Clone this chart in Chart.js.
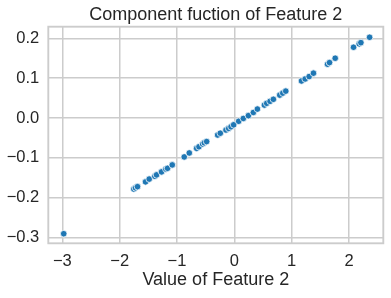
<!DOCTYPE html>
<html><head><meta charset="utf-8">
<script src="https://cdn.jsdelivr.net/npm/chart.js@4/dist/chart.umd.min.js"></script>
<style>html,body{margin:0;padding:0;background:#fff;overflow:hidden;}</style>
</head><body>
<canvas id="c" width="391" height="298" style="width:391px;height:298px;display:block"></canvas>
<script>
const featureValues = [-2.976,-1.753,-1.724,-1.689,-1.549,-1.485,-1.386,-1.357,-1.270,-1.194,-1.165,-1.083,-0.874,-0.786,-0.658,-0.617,-0.553,-0.524,-0.483,-0.291,-0.245,-0.146,-0.099,-0.058,-0.012,0.076,0.157,0.245,0.332,0.402,0.524,0.565,0.623,0.681,0.792,0.845,0.897,1.171,1.235,1.305,1.380,1.625,1.660,1.759,2.079,2.178,2.207,2.359];
const componentValues = [-0.290,-0.178,-0.175,-0.172,-0.160,-0.153,-0.146,-0.1425,-0.135,-0.128,-0.126,-0.1175,-0.0975,-0.0875,-0.076,-0.072,-0.065,-0.062,-0.059,-0.0425,-0.038,-0.030,-0.026,-0.022,-0.017,-0.008,-0.001,0.006,0.014,0.0225,0.0325,0.037,0.042,0.047,0.0575,0.0625,0.0675,0.093,0.098,0.104,0.1125,0.135,0.139,0.150,0.1775,0.186,0.189,0.2025];
const xTickValues = [-3,-2,-1,0,1,2];
const xTickLabels = ['\u22123','\u22122','\u22121','0','1','2'];
const yTickValues = [-0.3,-0.2,-0.1,0,0.1,0.2];
const yTickLabels = ['\u22120.3','\u22120.2','\u22120.1','0.0','0.1','0.2'];
const chartTitle = 'Component fuction of Feature 2';
const xTitle = 'Value of Feature 2';

const FONT = '"Liberation Sans", Arial, sans-serif';
const TEXT = '#262626';
const GRID = '#cccccc';

function labelFor(values, labels, v){
  for (let i=0;i<values.length;i++) if (Math.abs(values[i]-v)<1e-9) return labels[i];
  return '';
}

const framePlugin = {
  id:'frame',
  beforeDatasetsDraw(chart){
    const a = chart.chartArea, ctx = chart.ctx;
    ctx.save();
    ctx.strokeStyle = GRID;
    ctx.lineWidth = 1.875;
    ctx.strokeRect(a.left, a.top, a.right-a.left, a.bottom-a.top);
    ctx.restore();
  }
};

new Chart(document.getElementById('c'), {
  type:'scatter',
  data:{ datasets:[{
    data: featureValues.map((x,i)=>({x:x,y:componentValues[i]})),
    backgroundColor:'#1f77b4',
    borderColor:'#ffffff',
    borderWidth:0.75,
    pointRadius:3.3,
    pointHoverRadius:3.3
  }]},
  options:{
    responsive:false,
    animation:false,
    devicePixelRatio:1,
    layout:{padding:{left:0,right:7.7,top:0,bottom:0}},
    plugins:{
      legend:{display:false},
      tooltip:{enabled:false},
      title:{display:false}
    },
    scales:{
      x:{
        type:'linear', min:-3.245, max:2.598,
        afterBuildTicks(s){ s.ticks = xTickValues.map(v=>({value:v})); },
        afterFit(s){ s.height = 54.7; },
        grid:{color:GRID,lineWidth:1.5,drawTicks:false},
        border:{display:false},
        ticks:{color:TEXT,font:{family:FONT,size:16.5},padding:8,maxRotation:0,autoSkip:false,
          callback:(v)=>labelFor(xTickValues,xTickLabels,v)},
        title:{display:true,text:xTitle,color:TEXT,font:{family:FONT,size:18},padding:{top:0,bottom:7.5}}
      },
      titleAxis:{
        type:'linear', position:'top', min:-3.245, max:2.598,
        afterFit(s){ s.height = 26.7; },
        grid:{display:false,drawTicks:false},
        border:{display:false},
        ticks:{display:false},
        title:{display:true,text:chartTitle,color:TEXT,font:{family:FONT,size:18},padding:{top:4,bottom:0}}
      },
      y:{
        type:'linear', min:-0.314, max:0.229,
        afterBuildTicks(s){ s.ticks = yTickValues.map(v=>({value:v})); },
        afterFit(s){ s.width = 48.3; },
        grid:{color:GRID,lineWidth:1.5,drawTicks:false},
        border:{display:false},
        ticks:{color:TEXT,font:{family:FONT,size:16.5},padding:9,autoSkip:false,
          callback:(v)=>labelFor(yTickValues,yTickLabels,v)}
      }
    }
  },
  plugins:[framePlugin]
});
</script>
</body></html>
